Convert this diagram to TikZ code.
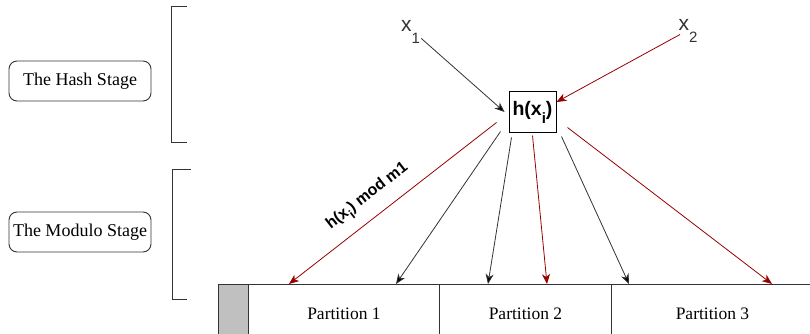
\documentclass[tikz,border=0pt]{standalone}
\usepackage{fontspec}
\setmainfont{Liberation Serif}
\setsansfont{Liberation Sans}
\usetikzlibrary{arrows.meta,calc}
\definecolor{dred}{HTML}{990000}
\definecolor{dgray}{HTML}{333333}
\newcommand{\lowsub}[3]{\raisebox{-#2}{\fontsize{#1}{#1}\selectfont #3}}
\tikzset{
  stage/.style={draw=dgray, line width=0.9pt, rounded corners=8pt, minimum width=142pt, minimum height=40pt, inner sep=0pt, font=\fontsize{18pt}{20pt}\selectfont},
  part/.style={draw=dgray, line width=0.9pt, minimum height=58pt, inner sep=0pt, anchor=north west, font=\fontsize{17.5pt}{20pt}\selectfont},
  brk/.style={draw=dgray, line width=1pt},
  xin/.style={inner sep=0pt, font=\sffamily\fontsize{21pt}{23pt}\selectfont, text=dgray},
  hbox/.style={draw=black, line width=1pt, minimum width=47pt, minimum height=40pt, inner sep=0pt, font=\sffamily\bfseries\fontsize{19.5pt}{21pt}\selectfont},
  arr/.style={-{Stealth[length=10pt,width=8pt,inset=3pt]}, line width=0.8pt},
  blk/.style={arr, draw=dgray, -{Stealth[length=10pt,width=8pt,inset=3pt,fill=black]}},
  red/.style={arr, draw=dred},
  lbl/.style={inner sep=0pt, font=\sffamily\bfseries\fontsize{16pt}{18pt}\selectfont},
}
\begin{document}
\begin{tikzpicture}[x=1pt,y=-1pt]
\useasboundingbox (0,0) rectangle (810,334);
\clip (0,0) rectangle (810,334);
% stage labels
\node[stage] (hash) at (80,81) {The Hash Stage};
\node[stage] (mod) at (80,232) {The Modulo Stage};
% brackets
\draw[brk] (187,7) -- (171,7) -- (171,142) -- (187,142);
\draw[brk] (191,169) -- (172,169) -- (172,299) -- (187,299);
% partitions
\node[part, fill={rgb,255:red,192;green,192;blue,192}, minimum width=30pt] (p0) at (218,284) {};
\node[part, minimum width=191pt] (p1) at (248,284) {Partition 1};
\node[part, minimum width=172pt] (p2) at (439,284) {Partition 2};
\node[part, minimum width=202pt] (p3) at (611,284) {Partition 3};
% hash box and inputs
\node[hbox] (h) at (532.5,112) {h(x\lowsub{15pt}{8pt}{i})};
\node[xin, anchor=base west] (x1) at (401,31.7) {x\lowsub{15pt}{11.5pt}{1}};
\node[xin, anchor=base west] (x2) at (678.5,31) {x\lowsub{15pt}{11.3pt}{2}};
\draw[blk] ([xshift=1pt,yshift=5pt]x1.south east) -- ([xshift=-4pt]h.west);
\draw[red] ([xshift=1.5pt,yshift=8pt]x2.south west) -- ([yshift=10pt]h.east);
% outgoing arrows
\draw[red] ([xshift=-12pt,yshift=10pt]h.south west) -- ([xshift=41pt]p1.north west);
\draw[blk] ([xshift=-8pt,yshift=1pt]h.south west) -- ([xshift=148pt]p1.north west);
\draw[blk] ([xshift=3pt,yshift=-5pt]h.south west) -- ([xshift=49pt]p2.north west);
\draw[red] ([yshift=-3pt]h.south) -- ([xshift=108pt]p2.north west);
\draw[blk] ([xshift=5pt,yshift=-4pt]h.south east) -- ([xshift=18pt]p3.north west);
\draw[red] ([xshift=11pt,yshift=5pt]h.south east) -- ([xshift=161pt]p3.north west);
\node[lbl, rotate=37.9] (lab) at (368,197) {h(x\lowsub{13pt}{6pt}{i}) mod m1};
\end{tikzpicture}
\end{document}
